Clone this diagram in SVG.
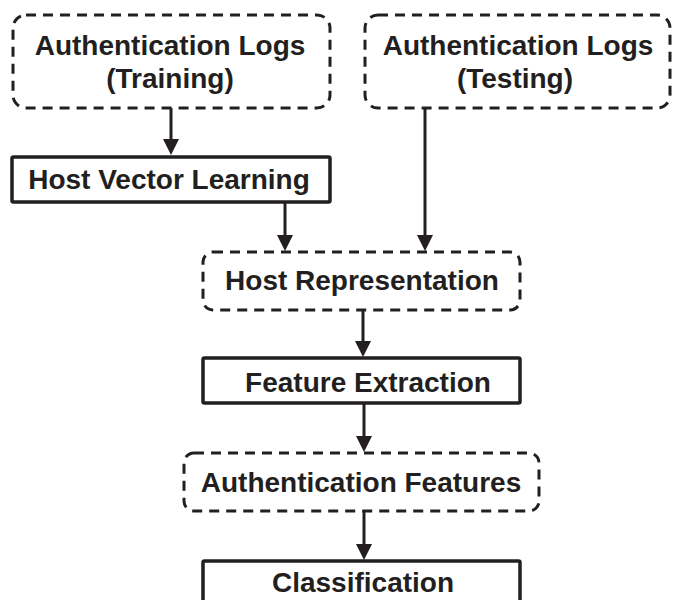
<svg xmlns="http://www.w3.org/2000/svg" width="674" height="600" viewBox="0 0 674 600">
<style>
.dash{fill:#fff;stroke:#231f20;stroke-width:3;stroke-dasharray:10 7}
.solid{fill:#fff;stroke:#231f20;stroke-width:3.5}
.t{font-family:"Liberation Sans",Arial,sans-serif;font-weight:bold;font-size:28px;fill:#231f20;text-anchor:middle}
.c{stroke:#231f20;stroke-width:3;fill:none}
</style>
<defs>
<marker id="ah" markerUnits="userSpaceOnUse" markerWidth="16" markerHeight="16" viewBox="0 0 16 16" refX="8" refY="8" orient="auto">
<path d="M0,0 L16,8 L0,16 z" fill="#231f20"/>
</marker>
</defs>
<rect width="674" height="600" fill="#fff"/>
<g id="connectors">
<line class="c" x1="171" y1="108" x2="171" y2="147" marker-end="url(#ah)"/>
<line class="c" x1="285" y1="203" x2="285" y2="243" marker-end="url(#ah)"/>
<line class="c" x1="425" y1="108" x2="425" y2="243" marker-end="url(#ah)"/>
<line class="c" x1="363" y1="310" x2="363" y2="349" marker-end="url(#ah)"/>
<line class="c" x1="364" y1="403" x2="364" y2="444" marker-end="url(#ah)"/>
<line class="c" x1="364" y1="511" x2="364" y2="552" marker-end="url(#ah)"/>
</g>
<g id="logs-training">
<rect class="dash" x="13" y="15" width="317" height="93" rx="13"/>
<text class="t" x="170" y="55">Authentication Logs</text>
<text class="t" x="170" y="88">(Training)</text>
</g>
<g id="logs-testing">
<rect class="dash" x="365" y="15" width="305" height="93" rx="13"/>
<text class="t" x="518" y="55">Authentication Logs</text>
<text class="t" x="515" y="88">(Testing)</text>
</g>
<g id="host-vector-learning">
<rect class="solid" x="12" y="157" width="318" height="45" rx="1.5"/>
<text class="t" x="169" y="189">Host Vector Learning</text>
</g>
<g id="host-representation">
<rect class="dash" x="203" y="252" width="317" height="58" rx="10"/>
<text class="t" x="362" y="290">Host Representation</text>
</g>
<g id="feature-extraction">
<rect class="solid" x="203" y="358" width="317" height="45" rx="1.5"/>
<text class="t" x="368" y="392">Feature Extraction</text>
</g>
<g id="authentication-features">
<rect class="dash" x="184" y="453" width="355" height="58" rx="10"/>
<text class="t" x="361" y="492">Authentication Features</text>
</g>
<g id="classification">
<rect class="solid" x="203" y="561" width="317" height="60" rx="1.5"/>
<text class="t" x="363" y="592">Classification</text>
</g>
</svg>
